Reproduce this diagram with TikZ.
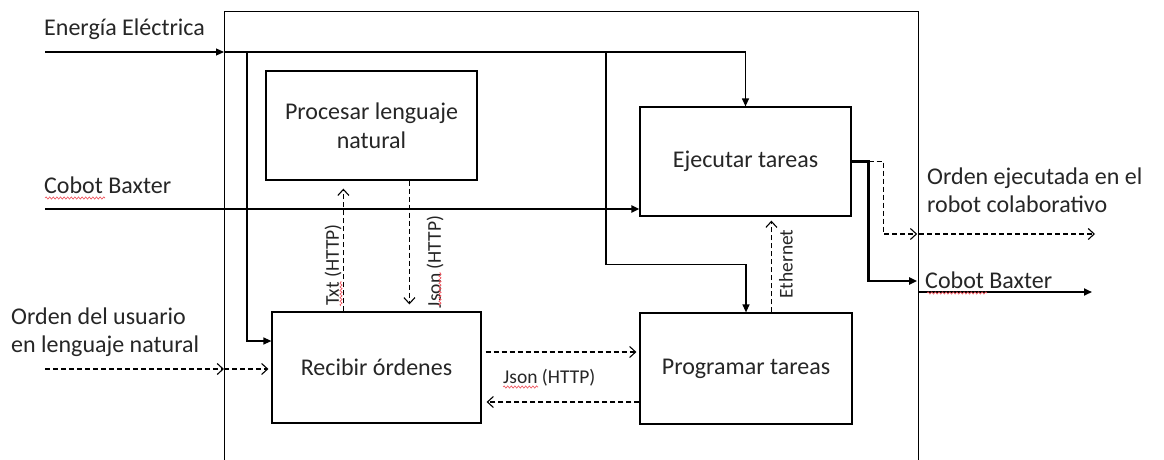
\documentclass[tikz,border=0pt]{standalone}
\usepackage{fontspec}
\setmainfont{Carlito}
\usetikzlibrary{arrows.meta,decorations.pathmorphing,calc}

\definecolor{ink}{HTML}{262626}
\definecolor{wavy}{HTML}{F0505A}

\begin{document}
\begin{tikzpicture}[x=1pt,y=-1pt,
  line/.style={draw=black, line width=1.2pt},
  heavy/.style={draw=black, line width=2.6pt},
  dsh/.style={draw=black, line width=1.2pt, dash pattern=on 5pt off 3pt},
  solidtip/.style={-{Triangle[length=8pt,width=7pt]}},
  barbtip/.style={-{Straight Barb[length=6pt,width=11pt,line width=1.1pt]}},
  block/.style={draw=black, line width=1.2pt, inner sep=0pt, align=center,
    text=ink, font=\fontsize{24}{29}\selectfont},
  lbl/.style={inner sep=0pt, text=ink, font=\fontsize{24}{28}\selectfont},
  small/.style={inner sep=0pt, text=ink, font=\fontsize{19.5}{23}\selectfont},
  spell/.style={draw=wavy, line width=0.6pt,
    decorate, decoration={snake, amplitude=1.1pt, segment length=3.6pt}},
]
\clip (0,0) rectangle (1164,460);
\fill[white] (0,0) rectangle (1164,460);

% system boundary (open at the bottom of the page)
\node[draw=black, line width=1.2pt, minimum width=694pt, minimum height=520pt,
  anchor=north west, inner sep=0pt] (sys) at (224,11) {};

% function blocks
\node[block, minimum width=211pt, minimum height=109pt] (proc) at (371.5,125.5)
  {Procesar lenguaje\\natural};
\node[block, minimum width=211pt, minimum height=109pt] (ejec) at (745.5,161.5)
  {Ejecutar tareas};
\node[block, minimum width=209pt, minimum height=111pt] (recib) at (376.5,367.5)
  {Recibir órdenes};
\node[block, minimum width=212pt, minimum height=111pt] (prog) at (746,368.5)
  {Programar tareas};

% external labels
\node[lbl, anchor=base west] (tE) at (44,36) {Energía Eléctrica};
\node[lbl, anchor=base west] (tC) at (44,193) {Cobot Baxter};
\node[lbl, anchor=north west, align=left] (tU) at (11,308)
  {Orden del usuario\\en lenguaje natural};
\node[lbl, anchor=north west, align=left] (tO) at (927,168)
  {Orden ejecutada en el\\robot colaborativo};
\node[lbl, anchor=base west] (tB) at (925,288) {Cobot Baxter};

% free ends of the external flows
\coordinate (eIn) at (45,52);
\coordinate (cIn) at (45,209);
\coordinate (uIn) at (45,369);
\coordinate (oOut) at (1095,234);
\coordinate (bOut) at (1092,292);
\coordinate (b1) at (247,52);
\coordinate (b2) at (606,52);

% electrical energy distribution
\draw[line, solidtip] (eIn) -- (eIn -| sys.west);
\draw[line, solidtip] (eIn -| sys.west) -| (ejec.north);
\draw[line, solidtip] (b1) |- ($(recib.west)+(0,-26.5)$);
\draw[line, solidtip] (b2) |- ($(prog.north)+(0,-48)$) -- (prog.north);

% robot input
\draw[heavy, solidtip] (cIn) -- (cIn -| ejec.west);

% user order
\draw[dsh, barbtip] (uIn) -- (uIn -| sys.west);
\draw[dsh, barbtip] (uIn -| sys.west) -- ($(uIn -| recib.west)+(-3,0)$);

% information exchange between blocks
\draw[dsh, barbtip] ($(recib.north west)+(72,0)$) -- ($(proc.south west)+(78,8)$);
\draw[dsh, barbtip] ($(proc.south west)+(144,0)$) -- ($(recib.north west)+(138,-7)$);
\draw[dsh, barbtip] ($(prog.north west)+(132,0)$) -- ($(ejec.south west)+(132,4)$);
\draw[dsh, barbtip] ($(recib.east)+(4,-15.5)$) -- ($(prog.west)+(-3,-16.5)$);
\draw[dsh, barbtip] ($(prog.west)+(0,33.5)$) -- ($(recib.east)+(5,34.5)$);

% outputs
\draw[heavy, solidtip] (ejec.east) -- ++(17,0) |- ($(sys.east |- bOut)+(-2,-11)$);
\draw[heavy, solidtip] (sys.east |- bOut) -- (bOut);
\draw[dsh, barbtip] ($(ejec.east)+(17,0)$) -- ++(15,0) |- ($(sys.east |- oOut)+(-2,0)$);
\draw[dsh, barbtip] (sys.east |- oOut) -- (oOut);

% connector labels
\node[small, rotate=90] (lTxt) at (333,265) {Txt (HTTP)};
\node[small, rotate=90] (lJs1) at (435,262) {Json (HTTP)};
\node[small, rotate=90] (lEth) at (786,264) {Ethernet};
\node[small, anchor=base west] (lJs2) at (503,383) {Json (HTTP)};

% spell-check underlines
\draw[spell] (45,198) -- (105,198);
\draw[spell] (927,293) -- (987,293);
\draw[spell] (341,306) -- (341,281);
\draw[spell] (440,306) -- (440,272);
\draw[spell] (503,387) -- (538,387);
\end{tikzpicture}
\end{document}
